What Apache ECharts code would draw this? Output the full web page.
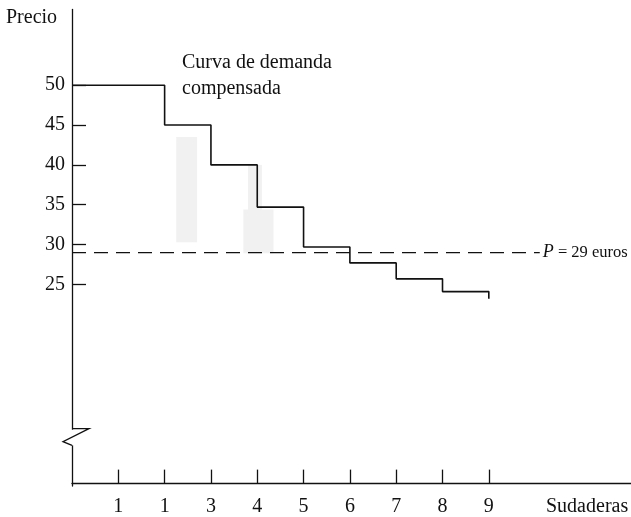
<!DOCTYPE html>
<html>
<head>
<meta charset="utf-8">
<script src="https://cdn.jsdelivr.net/npm/echarts@6/dist/echarts.min.js"></script>
<style>
html,body{margin:0;padding:0;background:#fff;}
#c{width:631px;height:517px;}
</style>
</head>
<body>
<div id="c"></div>
<script>
// ---- data ----
var stepQty   = [0, 2, 3, 4, 5, 6, 7, 8, 9];
var stepPrice = [50, 45, 40, 34.7, 29.7, 27.7, 25.7, 24.1, 23.2];
var marketPrice = 29;
var dashEndQty = 10.1;
var xTickValues = [1, 2, 3, 4, 5, 6, 7, 8, 9];
var xTickLabels = ['1', '1', '3', '4', '5', '6', '7', '8', '9'];
var yTickValues = [25, 30, 35, 40, 45, 50];
var shadeAreas = [ // [x0, y0, x1, y1]
  [2.25, 30.3, 2.7, 43.5],
  [3.8, 34.4, 4.1, 40],
  [3.7, 28.9, 4.35, 34.4]
];
var breakRange = [4.8, 6.9];

var FONT = '"Liberation Serif", "DejaVu Serif", serif';
var chart = echarts.init(document.getElementById('c'));

var stepData = stepQty.map(function (q, i) { return [q, stepPrice[i]]; });

var option = {
  animation: false,
  backgroundColor: '#fff',
  grid: { left: 72, right: 0, top: 9.5, bottom: 29 },
  xAxis: {
    type: 'value', min: 0, max: 12.07,
    splitLine: { show: false },
    axisLine: { lineStyle: { color: '#111', width: 1.3 } },
    axisTick: { inside: true, length: 14, customValues: xTickValues, lineStyle: { color: '#111', width: 1.3 } },
    axisLabel: {
      customValues: xTickValues, margin: 11,
      color: '#111', fontFamily: FONT, fontSize: 20,
      formatter: function (v) { return xTickLabels[xTickValues.indexOf(v)] || ''; }
    }
  },
  yAxis: {
    type: 'value', min: -0.3, max: 59.5,
    splitLine: { show: false },
    axisLine: { lineStyle: { color: '#111', width: 1.3 } },
    axisTick: { inside: true, length: 14, customValues: yTickValues, lineStyle: { color: '#111', width: 1.3 } },
    axisLabel: {
      customValues: yTickValues, margin: 7,
      color: '#111', fontFamily: FONT, fontSize: 20
    }
  },
  series: [
    {
      type: 'line', step: 'end', data: stepData, symbol: 'none',
      lineStyle: { color: '#111', width: 1.6 },
      z: 3,
      markArea: {
        silent: true,
        itemStyle: { color: 'rgba(150,150,150,0.13)' },
        data: shadeAreas.map(function (a) { return [{ coord: [a[0], a[1]] }, { coord: [a[2], a[3]] }]; })
      }
    },
    {
      type: 'line', data: [[0, marketPrice], [dashEndQty, marketPrice]], symbol: 'none',
      lineStyle: { color: '#111', width: 1.3, type: [14, 8] },
      z: 2,
      endLabel: {
        show: true, distance: 3,
        formatter: '{i|P}{t| = 29 euros}',
        color: '#111',
        rich: {
          i: { fontStyle: 'italic', fontFamily: FONT, fontSize: 18, color: '#111' },
          t: { fontFamily: FONT, fontSize: 16.5, color: '#111' }
        }
      }
    }
  ],
  graphic: [
    { type: 'text', left: 6, top: 8, style: { text: 'Precio', font: '20px ' + FONT, fill: '#111' } },
    { type: 'text', left: 546, top: 497, style: { text: 'Sudaderas', font: '20px ' + FONT, fill: '#111' } },
    { type: 'text', left: 182, top: 50, style: { text: 'Curva de demanda\ncompensada', font: '20px ' + FONT, lineHeight: 26, fill: '#111' } }
  ]
};
chart.setOption(option);

// axis break mark on the price axis
var pTop = chart.convertToPixel({ gridIndex: 0 }, [0, breakRange[1]]);
var pBot = chart.convertToPixel({ gridIndex: 0 }, [0, breakRange[0]]);
var ax = pTop[0];
var g = option.graphic.slice();
g.push({ type: 'rect', shape: { x: ax - 3, y: pTop[1] + 1, width: 6, height: pBot[1] - pTop[1] - 1 }, style: { fill: '#fff' }, z: 50 });
g.push({ type: 'polyline', shape: { points: [[ax, pTop[1]], [ax + 17, pTop[1]], [ax - 9, pTop[1] + 13], [ax, pBot[1]]] }, style: { stroke: '#111', lineWidth: 1.3, fill: null }, z: 51 });
chart.setOption({ graphic: g });
</script>
</body>
</html>
